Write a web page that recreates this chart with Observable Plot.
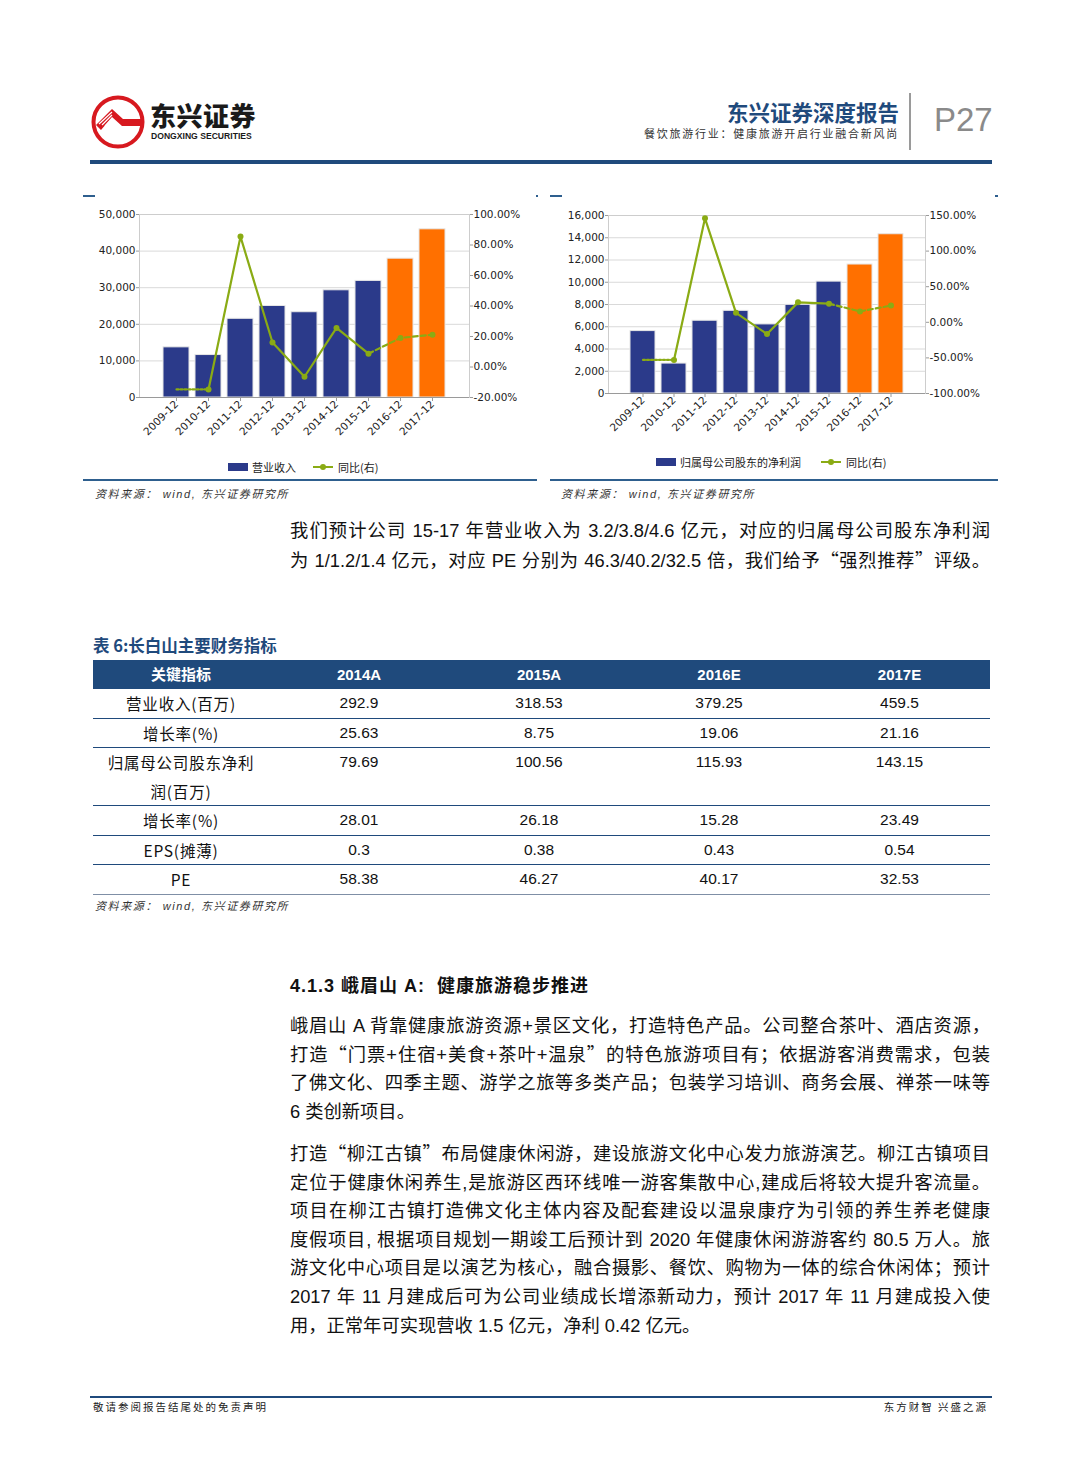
<!DOCTYPE html>
<html><head><meta charset="utf-8">
<script src="https://cdn.jsdelivr.net/npm/d3@7"></script>
<script src="https://cdn.jsdelivr.net/npm/@observablehq/plot@0.6"></script>
<style>
html,body{margin:0;padding:0;background:#fff;}
#page{position:relative;width:1080px;height:1465px;overflow:hidden;font-family:"Liberation Sans","Noto Sans CJK SC",sans-serif;color:#111;}
.abs{position:absolute;}
.para{position:absolute;left:290px;width:700px;font-size:18.3px;line-height:28.6px;color:#111;}
.para .j{text-align:justify;text-align-last:justify;}
.para > div{height:28.6px;overflow:visible;}
.q{font-family:"Noto Sans CJK SC",sans-serif;line-height:1;}
.src{position:absolute;font-size:11px;font-style:italic;color:#333;letter-spacing:1.6px;}
.legend{position:absolute;font-family:"Noto Sans CJK SC",sans-serif;font-size:11px;color:#222;display:flex;align-items:center;white-space:nowrap;}
.sw{display:inline-block;width:20px;height:8px;margin-right:4px;}
.lsw{position:relative;display:inline-block;width:20px;height:8px;margin-right:5px;}
.lsw:before{content:"";position:absolute;left:0;right:0;top:3px;height:2px;background:#8aab14;}
.lsw:after{content:"";position:absolute;left:7px;top:1px;width:6px;height:6px;border-radius:3px;background:#8aab14;}
#tbl{position:absolute;left:93px;top:660px;width:897px;border-collapse:collapse;table-layout:fixed;}
#tbl th{background:#1f4a7c;color:#fff;font-weight:bold;font-size:15px;height:29px;line-height:26px;padding:0;text-align:center;vertical-align:middle;}
#tbl td{font-size:15.5px;line-height:28.5px;padding:0;text-align:center;vertical-align:top;border-bottom:1.5px solid #1f4a7c;}
#tbl td.lab{font-family:"Noto Sans CJK SC",sans-serif;letter-spacing:0.8px;}
#tbl tr:last-child td{border-bottom:1px solid #7f8fa6;}
</style></head><body>
<div id="page">
  <!-- header -->
  <svg class="abs" style="left:90px;top:94px" width="56" height="56" viewBox="0 0 56 56">
    <circle cx="28" cy="28" r="24.5" fill="#fff" stroke="#d7191f" stroke-width="4"/>
    <path d="M6 31 L22 15 L33 25 L51 25 L51 32 L32 32 L22 23 L11 36 Z" fill="#d7191f"/>
    <path d="M9 30 L22 18 M12 31 L22 21 M15 32 L22 25" stroke="#fff" stroke-width="1.2" fill="none"/>
  </svg>
  <div class="abs" style="left:150px;top:100px;font-family:'Noto Sans CJK SC';font-weight:900;font-size:26px;line-height:30px;color:#1a1a1a;letter-spacing:0.5px">东兴证券</div>
  <div class="abs" style="left:151px;top:131px;font-family:'Liberation Sans';font-weight:bold;font-size:8.6px;line-height:11px;color:#1a1a1a">DONGXING SECURITIES</div>
  <div class="abs" style="right:181px;top:98px;font-family:'Noto Sans CJK SC';font-weight:bold;font-size:21.5px;line-height:28px;color:#1f4a7c">东兴证券深度报告</div>
  <div class="abs" style="right:181px;top:125px;font-family:'Noto Sans CJK SC';font-size:11px;line-height:16px;color:#333;letter-spacing:1.75px">餐饮旅游行业：健康旅游开启行业融合新风尚</div>
  <div class="abs" style="left:909px;top:93px;width:2px;height:57px;background:#9a9a9a"></div>
  <div class="abs" style="left:934px;top:101px;font-family:'Liberation Sans';font-size:33px;line-height:38px;color:#8a8a8a">P27</div>
  <div class="abs" style="left:90px;top:160px;width:902px;height:4px;background:#1f4a7c"></div>

  <!-- chart frames -->
  <div class="abs" style="left:83px;top:195px;width:12px;height:2px;background:#2e5f8e"></div>
  <div class="abs" style="left:536px;top:195px;width:2px;height:2px;background:#2e5f8e"></div>
  <div class="abs" style="left:550px;top:195px;width:12px;height:2px;background:#2e5f8e"></div>
  <div class="abs" style="left:995px;top:195px;width:3px;height:2px;background:#2e5f8e"></div>
  <div id="chart1" class="abs" style="left:83px;top:200px;width:457px;height:250px"></div>
  <div id="chart2" class="abs" style="left:550px;top:200px;width:448px;height:250px"></div>
  <div class="legend" style="left:228px;top:459px"><span class="sw" style="background:#2b3a8a"></span><span>营业收入</span><span style="width:17px"></span><span class="lsw"></span><span>同比(右)</span></div>
  <div class="legend" style="left:656px;top:454px"><span class="sw" style="background:#2b3a8a"></span><span>归属母公司股东的净利润</span><span style="width:20px"></span><span class="lsw"></span><span>同比(右)</span></div>
  <div class="abs" style="left:83px;top:479px;width:454px;height:2px;background:#2e5f8e"></div>
  <div class="abs" style="left:550px;top:479px;width:448px;height:2px;background:#2e5f8e"></div>
  <div class="src" style="left:95px;top:485px">资料来源： wind, 东兴证券研究所</div>
  <div class="src" style="left:561px;top:485px">资料来源： wind, 东兴证券研究所</div>

  <div class="para" style="top:516px;line-height:30px">
    <div class="j" style="height:30px">我们预计公司 15-17 年营业收入为 3.2/3.8/4.6 亿元，对应的归属母公司股东净利润</div>
    <div class="j" style="height:30px">为 1/1.2/1.4 亿元，对应 PE 分别为 46.3/40.2/32.5 倍，我们给予<span class="q">“</span>强烈推荐<span class="q">”</span>评级。</div>
  </div>

  <div class="abs" style="left:93px;top:634px;font-family:'Noto Sans CJK SC';font-weight:bold;font-size:16.5px;line-height:22px;color:#1f4a7c">表 6:长白山主要财务指标</div>
  <table id="tbl"><colgroup><col style="width:176px"><col style="width:180px"><col style="width:180px"><col style="width:180px"><col style="width:181px"></colgroup><thead><tr id="thead"></tr></thead><tbody id="tbody"></tbody></table>
  <div class="src" style="left:95px;top:897px">资料来源： wind, 东兴证券研究所</div>

  <div class="abs" style="left:290px;top:975px;font-family:'Liberation Sans','Noto Sans CJK SC';font-weight:bold;font-size:18px;line-height:22px;color:#111;letter-spacing:1px">4.1.3 峨眉山 A:&nbsp;&nbsp;健康旅游稳步推进</div>

  <div class="para" style="top:1012px">
    <div class="j">峨眉山 A 背靠健康旅游资源+景区文化，打造特色产品。公司整合茶叶、酒店资源，</div>
    <div class="j">打造<span class="q">“</span>门票+住宿+美食+茶叶+温泉<span class="q">”</span>的特色旅游项目有；依据游客消费需求，包装</div>
    <div class="j">了佛文化、四季主题、游学之旅等多类产品；包装学习培训、商务会展、禅茶一味等</div>
    <div>6 类创新项目。</div>
  </div>
  <div class="para" style="top:1140px">
    <div class="j">打造<span class="q">“</span>柳江古镇<span class="q">”</span>布局健康休闲游，建设旅游文化中心发力旅游演艺。柳江古镇项目</div>
    <div class="j">定位于健康休闲养生,是旅游区西环线唯一游客集散中心,建成后将较大提升客流量。</div>
    <div class="j">项目在柳江古镇打造佛文化主体内容及配套建设以温泉康疗为引领的养生养老健康</div>
    <div class="j">度假项目, 根据项目规划一期竣工后预计到 2020 年健康休闲游游客约 80.5 万人。旅</div>
    <div class="j">游文化中心项目是以演艺为核心，融合摄影、餐饮、购物为一体的综合休闲体；预计</div>
    <div class="j">2017 年 11 月建成后可为公司业绩成长增添新动力，预计 2017 年 11 月建成投入使</div>
    <div>用，正常年可实现营收 1.5 亿元，净利 0.42 亿元。</div>
  </div>

  <div class="abs" style="left:90px;top:1396px;width:902px;height:2px;background:#1f4a7c"></div>
  <div class="abs" style="left:93px;top:1400px;font-family:'Noto Sans CJK SC';font-size:10.5px;line-height:14px;color:#222;letter-spacing:2px">敬请参阅报告结尾处的免责声明</div>
  <div class="abs" style="right:92px;top:1400px;font-family:'Noto Sans CJK SC';font-size:10.5px;line-height:14px;color:#222;letter-spacing:2px">东方财智 兴盛之源</div>
</div>
<script>
// ---------- data ----------
const years = ["2009-12","2010-12","2011-12","2012-12","2013-12","2014-12","2015-12","2016-12","2017-12"];
const kinds = ["A","A","A","A","A","A","A","E","E"];           // A = actual, E = forecast
const revenue = [13700,11600,21500,25000,23300,29290,31853,37925,45950];
const revenueYoY = [-14.7,-14.7,85.5,16.1,-6.4,25.63,8.75,19.06,21.16];
const profit = [5610,2690,6540,7430,6210,7969,10056,11593,14315];
const profitYoY = [-52.9,-52.9,146,13.3,-16.5,28.01,26.18,15.28,23.49];
const revTicks = [0,10000,20000,30000,40000,50000];
const revPctTicks = [-20,0,20,40,60,80,100];
const profTicks = [0,2000,4000,6000,8000,10000,12000,14000,16000];
const profPctTicks = [-100,-50,0,50,100,150];

const tableCols = ["关键指标","2014A","2015A","2016E","2017E"];
const tableLabels = ["营业收入(百万)","增长率(%)","归属母公司股东净利<br>润(百万)","增长率(%)","EPS(摊薄)","PE"];
const t2014 = ["292.9","25.63","79.69","28.01","0.3","58.38"];
const t2015 = ["318.53","8.75","100.56","26.18","0.38","46.27"];
const t2016 = ["379.25","19.06","115.93","15.28","0.43","40.17"];
const t2017 = ["459.5","21.16","143.15","23.49","0.54","32.53"];

const BLUE = "#2b3a8a", ORANGE = "#ff7000", GREEN = "#8aab14";

// ---------- table ----------
document.getElementById("thead").innerHTML = tableCols.map(c => `<th>${c}</th>`).join("");
document.getElementById("tbody").innerHTML = tableLabels.map((l, i) =>
  `<tr><td class="lab">${l}</td><td>${t2014[i]}</td><td>${t2015[i]}</td><td>${t2016[i]}</td><td>${t2017[i]}</td></tr>`).join("");

// ---------- charts ----------
function drawChart(host, cfg) {
  const rows = years.map((year, i) => ({year, value: cfg.bars[i], yoy: cfg.yoy[i], kind: kinds[i]}));
  const common = {
    width: cfg.width, height: cfg.height,
    marginLeft: cfg.ml, marginRight: cfg.mr, marginTop: cfg.mt, marginBottom: cfg.mb,
    style: {background: "transparent", fontFamily: "DejaVu Sans, sans-serif", fontSize: "10.5px", color: "#222", overflow: "visible"}
  };
  const xs = {type: "band", domain: years, padding: 0.2, insetLeft: cfg.insetL, insetRight: cfg.insetR};
  const barPlot = Plot.plot({
    ...common,
    x: {...xs, label: null},
    y: {domain: cfg.yDomain, label: null},
    marks: [
      Plot.gridY(cfg.yTicks, {stroke: "#d9d9d9", strokeOpacity: 1}),
      Plot.frame({stroke: "#cdcdcd"}),
      Plot.barY(rows, {x: "year", y: "value", fill: d => d.kind === "A" ? BLUE : ORANGE, stroke: "#e6e6e6", strokeWidth: 1}),
      Plot.ruleY([cfg.yDomain[0]], {stroke: "#9a9a9a"}),
      Plot.axisY({ticks: cfg.yTicks, tickFormat: d3.format(","), tickSize: 3, tickPadding: 1, stroke: "#9a9a9a", label: null}),
      Plot.axisX({tickRotate: -45, tickSize: 4, tickPadding: 1, stroke: "#9a9a9a", label: null})
    ]
  });
  const seg = (a, b) => rows.slice(a, b + 1);
  const linePlot = Plot.plot({
    ...common,
    x: {...xs, axis: null},
    y: {domain: cfg.rDomain, label: null},
    marks: [
      Plot.line(seg(0, 1), {x: "year", y: "yoy", stroke: GREEN, strokeWidth: 2.2, strokeDasharray: "2,2"}),
      Plot.line(seg(1, 6), {x: "year", y: "yoy", stroke: GREEN, strokeWidth: 2.2}),
      Plot.line(seg(6, 8), {x: "year", y: "yoy", stroke: GREEN, strokeWidth: 2.2, strokeDasharray: "5,3"}),
      Plot.dot(rows.slice(1), {x: "year", y: "yoy", fill: GREEN, r: 3}),
      Plot.axisY({anchor: "right", ticks: cfg.rTicks, tickFormat: d => d.toFixed(2) + "%", tickSize: 3, tickPadding: 1, stroke: "#9a9a9a", label: null})
    ]
  });
  for (const svg of [barPlot, linePlot]) {
    svg.style.position = "absolute"; svg.style.left = "0px"; svg.style.top = "0px";
    host.appendChild(svg);
  }
}

drawChart(document.getElementById("chart1"), {
  width: 457, height: 250, ml: 56, mr: 71, mt: 14, mb: 53, insetL: 13, insetR: 14,
  bars: revenue, yoy: revenueYoY, yDomain: [0, 50000], yTicks: revTicks, rDomain: [-20, 100], rTicks: revPctTicks
});
drawChart(document.getElementById("chart2"), {
  width: 448, height: 250, ml: 58, mr: 73, mt: 15, mb: 57, insetL: 13, insetR: 13,
  bars: profit, yoy: profitYoY, yDomain: [0, 16000], yTicks: profTicks, rDomain: [-100, 150], rTicks: profPctTicks
});
</script>
</body></html>
